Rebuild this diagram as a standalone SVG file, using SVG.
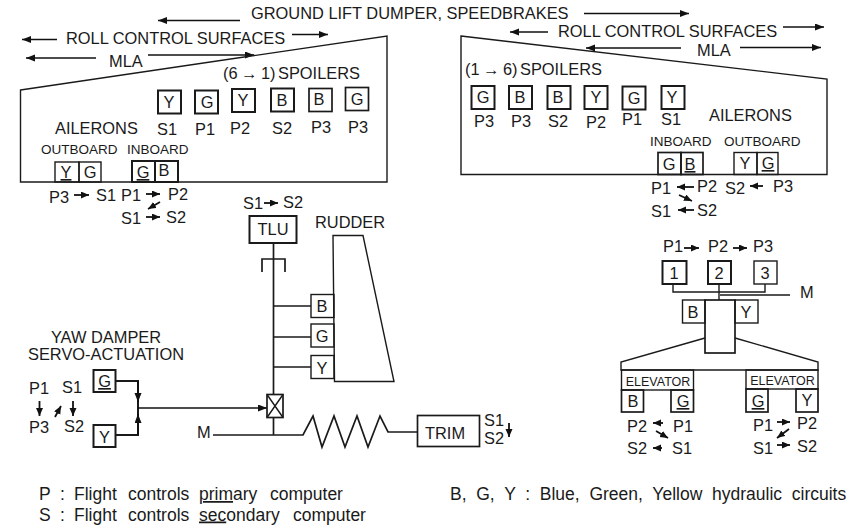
<svg xmlns="http://www.w3.org/2000/svg" width="861" height="526" viewBox="0 0 861 526">
<style>
text{font-family:"Liberation Sans",Arial,sans-serif;font-size:16.4px;fill:#1a1a1a}
.m{text-anchor:middle}
.s{font-size:13.5px}
.e{font-size:12.5px}
.g{font-size:17.5px}
.u{text-decoration:underline}
rect,polygon,.l{fill:none;stroke:#1a1a1a;stroke-width:1.4}
.k{stroke-width:2}
.h{stroke-width:1.7}
.a{fill:none;stroke:#111;stroke-width:1.6;marker-end:url(#ah)}
.b{fill:none;stroke:#111;stroke-width:1.8;marker-end:url(#as)}
</style>
<defs>
<marker id="ah" markerUnits="userSpaceOnUse" markerWidth="10" markerHeight="8" refX="9" refY="3.500" orient="auto"><path d="M0 0L9 3.500L0 7z" fill="#111"/></marker>
<marker id="as" markerUnits="userSpaceOnUse" markerWidth="9" markerHeight="8" refX="8" refY="3.500" orient="auto"><path d="M0 0L8 3.500L0 7z" fill="#111"/></marker>
</defs>
<g id="connectors">
<path class="a" d="M240 20.5H158"/><path class="a" d="M584 13.5H689"/>
<path class="a" d="M57 39.5H22"/><path class="a" d="M292 34.5H328"/>
<path class="a" d="M96 58H26"/><path class="a" d="M148 55H254"/>
<path class="a" d="M548 32H510"/><path class="a" d="M783 27H824"/>
<path class="a" d="M681 48H586"/><path class="a" d="M740 47.5H821"/>
<path class="b" d="M74 195H89"/><path class="b" d="M146 194H160"/><path class="b" d="M160 202L148 209"/><path class="b" d="M146 217H160"/>
<path class="b" d="M694 187H677"/><path class="b" d="M763 186H750"/><path class="b" d="M679 195L692 201"/><path class="b" d="M694 210H678"/>
<path class="b" d="M264 203H278"/>
<path class="b" d="M509 423V437"/>
<path class="b" d="M39.5 401V416"/><path class="b" d="M55 417L61 406"/><path class="b" d="M73 401V416"/>
<path class="b" d="M684 248H699"/><path class="b" d="M733 248H747"/>
<path class="b" d="M663 423H653"/><path class="b" d="M656 431L668 438"/><path class="b" d="M662 448H653"/>
<path class="b" d="M777 422H790"/><path class="b" d="M789 429L777 438"/><path class="b" d="M777 445H790"/>
<path class="l h" d="M273.5 243V394M273.5 417.5V435M262 272V259H285V272"/>
<path class="l h" d="M273.5 306H311M273.5 337H311M273.5 367H311"/>
<path class="l h" d="M213 435H303L313 416L322 447L334 416L345 447L357 416L368 447L380 416L388 432H417"/>
<path class="l k" d="M116 381H138V408"/><path class="a" style="stroke-width:1.9" d="M138 381V402"/>
<path class="l k" d="M116 435H138V408"/><path class="a" style="stroke-width:1.9" d="M138 435V414"/>
<path class="a" d="M138 408H267"/>
<path class="l" d="M673 284V292H765V284M719 284V300M720 295H790"/>
<path class="l" d="M705 338L621 362V370H818V362L735 338"/>
</g>
<g id="left-wing">
<polygon points="20.5,90 387,36 387,182 20.5,182"/>
<text x="223" y="79">(6</text><text x="241" y="79">→</text><text x="261" y="79">1)</text><text x="278" y="79">SPOILERS</text>
<text x="55" y="134">AILERONS</text>
<text x="41" y="154" class="s">OUTBOARD</text><text x="127" y="154" class="s">INBOARD</text>
</g>
<g id="left-spoilers">
<rect class="k" x="158" y="90.5" width="23" height="23"/><text class="m" x="169" y="108">Y</text><text class="m" x="167" y="135">S1</text>
<rect class="k" x="195" y="90.5" width="23" height="23"/><text class="m" x="207" y="108">G</text><text class="m" x="205" y="135">P1</text>
<rect class="k" x="232" y="89" width="23" height="23"/><text class="m" x="243" y="106">Y</text><text class="m" x="240" y="134">P2</text>
<rect class="k" x="271" y="88.5" width="23" height="23"/><text class="m" x="282" y="106">B</text><text class="m" x="282" y="134">S2</text>
<rect class="h" x="309" y="88.5" width="23" height="23"/><text class="m" x="319" y="105">B</text><text class="m" x="321" y="133">P3</text>
<rect class="h" x="345.500" y="87.5" width="23" height="23"/><text class="m" x="357" y="105">G</text><text class="m" x="358" y="133">P3</text>
</g>
<g id="left-ailerons">
<rect x="55" y="162" width="24" height="20"/><rect x="79" y="162" width="22" height="20"/>
<text class="m u" x="66" y="178">Y</text><text class="m" x="90" y="178">G</text>
<rect class="k" x="132" y="161" width="23" height="21"/><rect class="k" x="155" y="161" width="23" height="21"/>
<text class="m u" x="143" y="178">G</text><text class="m" x="164" y="176">B</text>
<text x="49" y="203">P3</text><text x="96" y="201">S1</text>
<text x="121" y="201">P1</text><text x="168" y="200">P2</text>
<text x="121" y="224">S1</text><text x="166" y="223">S2</text>
</g>
<g id="top-labels">
<text x="251" y="19">GROUND LIFT DUMPER, SPEEDBRAKES</text>
<text x="66" y="44">ROLL CONTROL SURFACES</text>
<text x="109" y="67">MLA</text>
<text x="558" y="37">ROLL CONTROL SURFACES</text>
<text x="697" y="56">MLA</text>
</g>
<g id="right-wing">
<polygon points="461,36 827,79 827,174.500 461,174.500"/>
<text x="465" y="75">(1</text><text x="483" y="75">→</text><text x="503" y="75">6)</text><text x="520" y="75">SPOILERS</text>
<text x="709" y="121">AILERONS</text>
<text x="650" y="146" class="s">INBOARD</text><text x="724" y="146" class="s">OUTBOARD</text>
</g>
<g id="right-spoilers">
<rect class="k" x="471.500" y="86" width="23" height="23"/><text class="m" x="483" y="103">G</text><text class="m" x="484" y="127">P3</text>
<rect class="k" x="509" y="86" width="23" height="23"/><text class="m" x="520" y="103">B</text><text class="m" x="521" y="127">P3</text>
<rect class="k" x="547.500" y="86" width="23" height="23"/><text class="m" x="558" y="103">B</text><text class="m" x="558" y="127">S2</text>
<rect class="k" x="584.500" y="86" width="23" height="23"/><text class="m" x="596" y="103">Y</text><text class="m" x="596" y="128">P2</text>
<rect class="k" x="622.500" y="86.500" width="23" height="23"/><text class="m" x="634" y="104">G</text><text class="m" x="632" y="125">P1</text>
<rect class="k" x="661.500" y="86" width="23" height="23"/><text class="m" x="672" y="103">Y</text><text class="m" x="671" y="125">S1</text>
</g>
<g id="right-ailerons">
<rect class="h" x="658" y="152.500" width="23" height="22"/><rect class="h" x="681" y="152.500" width="22" height="22"/>
<text class="m" x="669" y="170">G</text><text class="m u" x="690" y="170">B</text>
<rect x="734" y="152.500" width="23" height="22"/><rect x="757" y="152.500" width="21" height="22"/>
<text class="m" x="745" y="169">Y</text><text class="m u" x="768" y="169">G</text>
<text x="651" y="194">P1</text><text x="697" y="192">P2</text><text x="725" y="194">S2</text><text x="773" y="192">P3</text>
<text x="651" y="217">S1</text><text x="697" y="216">S2</text>
</g>
<g id="tlu">
<text x="243" y="209">S1</text><text x="283" y="208">S2</text>
<rect class="k" x="249.500" y="216" width="47" height="27"/>
<text class="m" x="273" y="235">TLU</text>
</g>
<g id="rudder">
<text x="315" y="228">RUDDER</text>
<polygon points="333,235.500 363,235.500 394,381.500 334.500,381.500"/>
<rect x="311" y="294.500" width="23" height="23"/><text class="m" x="322" y="312">B</text>
<rect x="311" y="324" width="23" height="23"/><text class="m" x="322" y="342">G</text>
<rect x="311" y="355.500" width="23" height="23"/><text class="m" x="322" y="374">Y</text>
</g>
<g id="mixer">
<rect class="h" x="267" y="394.500" width="16" height="23"/>
<path class="l" d="M267 394.500L283 417.500M283 394.500L267 417.500"/>
<text x="197" y="438">M</text>
</g>
<g id="trim">
<rect class="h" x="417.500" y="415.500" width="62" height="31"/>
<text x="425" y="439">TRIM</text>
<text x="484" y="426">S1</text><text x="484" y="444">S2</text>
</g>
<g id="yaw-damper">
<text class="m" x="106" y="343">YAW DAMPER</text>
<text class="m" x="106" y="360">SERVO-ACTUATION</text>
<text x="29" y="394">P1</text><text x="62" y="393">S1</text>
<text x="29" y="433">P3</text><text x="64" y="432">S2</text>
<rect class="k" x="93.500" y="370" width="22" height="22"/><text class="m u" x="104.500" y="387">G</text>
<rect class="k" x="93.500" y="425" width="22" height="22"/><text class="m" x="104.500" y="443">Y</text>
</g>
<g id="elevator-top">
<text x="663" y="252">P1</text><text x="708" y="252">P2</text><text x="753" y="252">P3</text>
<rect class="k" x="662.500" y="261" width="24" height="23"/><text class="m" x="674" y="279">1</text>
<rect class="k" x="708" y="261" width="23" height="23"/><text class="m" x="719" y="279">2</text>
<rect x="754" y="261" width="23" height="23"/><text class="m" x="765" y="279">3</text>
<text x="800" y="298">M</text>
<rect class="h" x="705" y="300" width="30" height="53"/>
<rect x="682.500" y="300" width="22.500" height="23"/><text class="m" x="693" y="318">B</text>
<rect x="735" y="300" width="23" height="23"/><text class="m" x="746" y="318">Y</text>
</g>
<g id="elevator-left">
<rect x="621.500" y="370" width="72" height="20"/>
<text class="e m" x="658" y="386">ELEVATOR</text>
<rect class="h" x="621.500" y="390" width="22" height="22"/><text class="m" x="633" y="407">B</text>
<rect class="h" x="671" y="390" width="22.500" height="22"/><text class="m u" x="683" y="407">G</text>
<text x="627" y="432">P2</text><text x="673" y="432">P1</text><text x="627" y="454">S2</text><text x="672" y="454">S1</text>
</g>
<g id="elevator-right">
<rect x="746" y="370" width="72" height="19"/>
<text class="e m" x="782.500" y="385">ELEVATOR</text>
<rect class="h" x="746" y="389" width="22" height="23"/><text class="m u" x="758" y="407">G</text>
<rect class="h" x="796" y="389" width="22" height="23"/><text class="m" x="807" y="406">Y</text>
<text x="753" y="431">P1</text><text x="797" y="429">P2</text><text x="753" y="454">S1</text><text x="797" y="452">S2</text>
</g>
<g id="legend">
<text class="g" x="39" y="500">P</text><text class="g" x="60" y="500">:</text><text class="g" x="74" y="500">Flight</text><text class="g" x="128" y="500">controls</text><text class="g" x="199" y="500"><tspan class="u">prim</tspan>ary</text><text class="g" x="270" y="500">computer</text>
<text class="g" x="39" y="520.500">S</text><text class="g" x="60" y="520.500">:</text><text class="g" x="74" y="520.500">Flight</text><text class="g" x="128" y="520.500">controls</text><text class="g" x="199" y="520.500"><tspan class="u">sec</tspan>ondary</text><text class="g" x="293" y="520.500">computer</text>
<text class="g" x="450" y="500" xml:space="preserve">B,  G,  Y  :  Blue,  Green,  Yellow  hydraulic  circuits</text>
</g>
</svg>
